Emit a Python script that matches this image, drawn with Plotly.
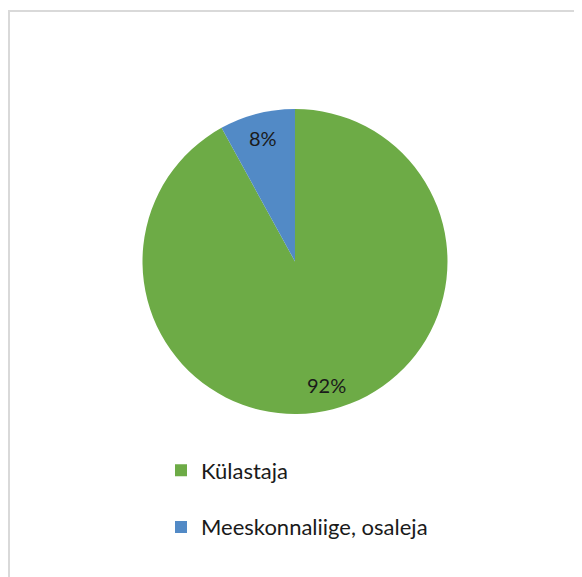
import math
import plotly.graph_objects as go

labels = ["Külastaja", "Meeskonnaliige, osaleja"]
values = [92, 8]
colors = ["#6DAB46", "#528AC6"]

W, H = 582, 577
OFF = 8  # page body margin
cx, cy, r = 295 - OFF, 261.5 - OFF, 152.5

fig = go.Figure()
fig.add_trace(go.Pie(
    labels=labels, values=values, sort=False, direction="clockwise", rotation=0,
    marker=dict(colors=colors, line=dict(width=0)),
    textinfo="none",
    showlegend=False, hoverinfo="label+percent",
    domain=dict(x=[(cx - r) / W, (cx + r) / W], y=[1 - (cy + r) / H, 1 - (cy - r) / H]),
))
for lab, col in zip(labels, colors):
    fig.add_trace(go.Scatter(
        x=[None], y=[None], mode="markers", name=lab, legendgroup=lab,
        marker=dict(symbol="square", size=12, color=col),
        showlegend=True,
    ))

# percentage labels at slice mid-angles
total = sum(values)
annotations = []
start = 0.0
for v in values:
    mid = (start + v / 2) / total * 2 * math.pi  # clockwise from 12 o'clock
    start += v
    rr = 0.835 * r
    px = cx + rr * math.sin(mid)
    py = cy - rr * math.cos(mid)
    annotations.append(dict(
        x=px / W, y=1 - py / H, xref="paper", yref="paper",
        text=f"{round(v / total * 100)}%", showarrow=False,
        font=dict(family="Lato", size=20, color="#1a1a1a"),
        xanchor="center", yanchor="middle",
    ))

fig.update_layout(
    width=W, height=H, margin=dict(l=0, r=0, t=0, b=0),
    paper_bgcolor="white", plot_bgcolor="white",
    xaxis=dict(visible=False), yaxis=dict(visible=False),
    annotations=annotations,
    legend=dict(x=(181 - OFF - 20) / W, y=1 - 441.5 / H, xanchor="left", yanchor="top",
                font=dict(family="Lato", size=22, color="#1a1a1a"),
                tracegroupgap=25, bgcolor="rgba(0,0,0,0)", itemclick=False),
    shapes=[
        dict(type="line", xref="paper", yref="paper", x0=0, x1=1, y0=1 - 3 / H, y1=1 - 3 / H,
             line=dict(color="#d9d9d9", width=2)),
        dict(type="line", xref="paper", yref="paper", x0=1 / W, x1=1 / W, y0=0, y1=1 - 2 / H,
             line=dict(color="#d9d9d9", width=2)),
    ],
)
fig.write_html("out.html")
